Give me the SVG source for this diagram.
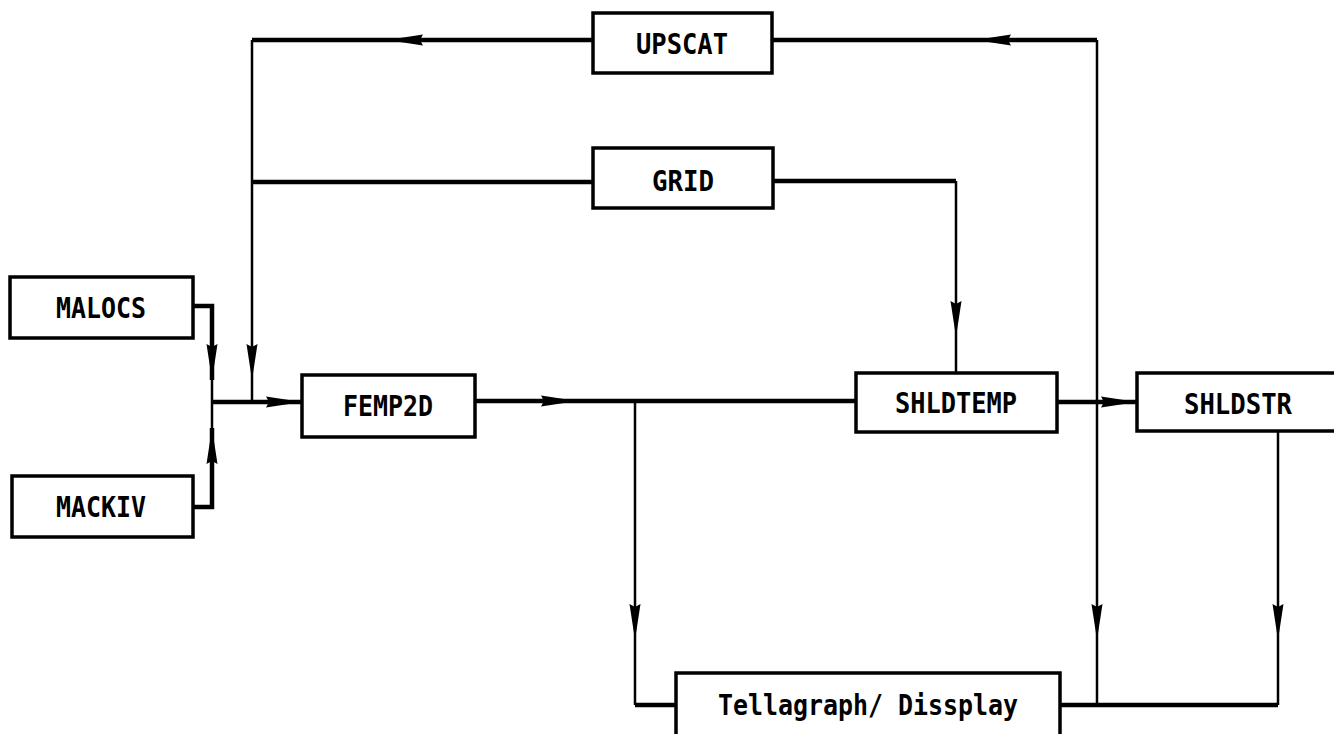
<svg xmlns="http://www.w3.org/2000/svg" width="1334" height="734" viewBox="0 0 1334 734">
<defs>
<style>
.box{fill:#fff;stroke:#000;stroke-width:3.5}
.lbl{font-family:"DejaVu Sans Mono","Liberation Mono",monospace;font-weight:bold;font-size:28px;fill:#000;text-anchor:middle;dominant-baseline:central}
.thick{fill:none;stroke:#000;stroke-width:4.5;stroke-linejoin:miter}
.thin{fill:none;stroke:#000;stroke-width:2.5}
</style>
<marker id="ah" markerUnits="userSpaceOnUse" viewBox="0 0 36 12" markerWidth="36" markerHeight="12" refX="36" refY="6" orient="auto">
<path d="M0,0.5 L36,6 L0,11.5 L3,6 Z" fill="#000"/>
</marker>
</defs>
<rect width="1334" height="734" fill="#fff"/>
<g id="connectors">
<path class="thick" d="M193,306 H212 V380" marker-end="url(#ah)"/>
<path class="thin" d="M212,380 V402"/>
<path class="thick" d="M193,507 H212 V428" marker-end="url(#ah)"/>
<path class="thin" d="M212,428 V402"/>
<path class="thick" d="M212,402 H302" marker-end="url(#ah)"/>
<path class="thick" d="M593,40 H387" marker-end="url(#ah)"/>
<path class="thick" d="M387,40 H252"/>
<path class="thin" d="M252,40 V380" marker-end="url(#ah)"/>
<path class="thin" d="M252,380 V402"/>
<path class="thick" d="M593,182 H252"/>
<path class="thick" d="M773,181 H956"/>
<path class="thin" d="M956,181 V337" marker-end="url(#ah)"/>
<path class="thin" d="M956,337 V373"/>
<path class="thick" d="M475,401 H577" marker-end="url(#ah)"/>
<path class="thick" d="M577,401 H856"/>
<path class="thin" d="M635,401 V640" marker-end="url(#ah)"/>
<path class="thin" d="M635,640 V705"/>
<path class="thick" d="M635,705 H676"/>
<path class="thick" d="M1057,402 H1137" marker-end="url(#ah)"/>
<path class="thick" d="M1060,705 H1278"/>
<path class="thin" d="M1097,705 V640"/>
<path class="thin" d="M1097,40 V640" marker-end="url(#ah)"/>
<path class="thick" d="M1097,40 H975" marker-end="url(#ah)"/>
<path class="thick" d="M975,40 H772"/>
<path class="thin" d="M1278,431 V640" marker-end="url(#ah)"/>
<path class="thin" d="M1278,640 V705"/>
</g>
<g id="MALOCS"><rect class="box" x="10" y="277" width="183" height="61"/><text class="lbl" x="101" y="308" textLength="90" lengthAdjust="spacingAndGlyphs">MALOCS</text></g>
<g id="MACKIV"><rect class="box" x="12" y="476" width="181" height="61"/><text class="lbl" x="101" y="507" textLength="90" lengthAdjust="spacingAndGlyphs">MACKIV</text></g>
<g id="FEMP2D"><rect class="box" x="302" y="375" width="173" height="62"/><text class="lbl" x="388" y="406" textLength="90" lengthAdjust="spacingAndGlyphs">FEMP2D</text></g>
<g id="UPSCAT"><rect class="box" x="593" y="13" width="179" height="60"/><text class="lbl" x="682" y="44" textLength="92" lengthAdjust="spacingAndGlyphs">UPSCAT</text></g>
<g id="GRID"><rect class="box" x="593" y="148" width="180" height="60"/><text class="lbl" x="683" y="181" textLength="62" lengthAdjust="spacingAndGlyphs">GRID</text></g>
<g id="SHLDTEMP"><rect class="box" x="856" y="373" width="201" height="59"/><text class="lbl" x="956" y="403" textLength="122" lengthAdjust="spacingAndGlyphs">SHLDTEMP</text></g>
<g id="SHLDSTR"><rect class="box" x="1137" y="373" width="200" height="58"/><text class="lbl" x="1238" y="404" textLength="108" lengthAdjust="spacingAndGlyphs">SHLDSTR</text></g>
<g id="Tellagraph"><rect class="box" x="676" y="673" width="384" height="64"/><text class="lbl" x="868" y="705" textLength="300" lengthAdjust="spacingAndGlyphs">Tellagraph/ Dissplay</text></g>
</svg>
